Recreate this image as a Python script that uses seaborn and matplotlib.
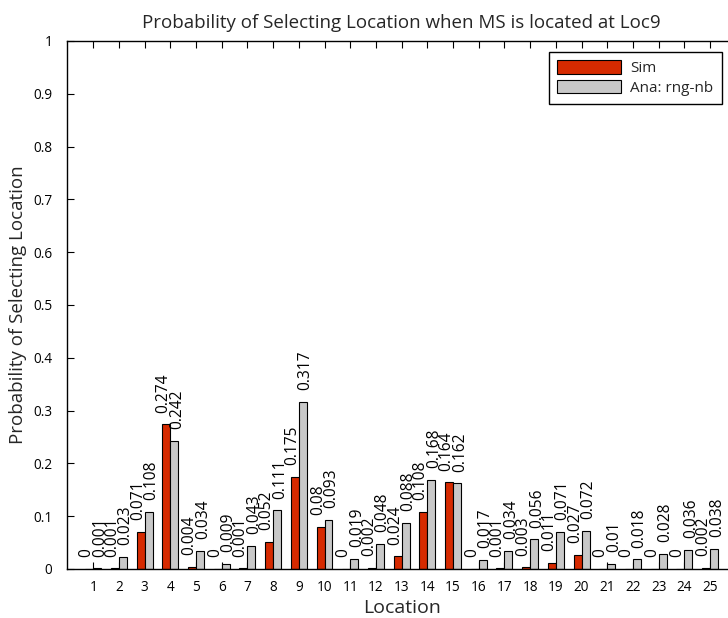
import matplotlib
matplotlib.use("Agg")
import matplotlib.pyplot as plt
import seaborn as sns
import pandas as pd

# Selection probability per location, simulation vs. analytical model
locations = list(range(1, 26))
sim_values = [0, 0.001, 0.071, 0.274, 0.004, 0, 0.001, 0.052, 0.175, 0.08,
              0, 0.002, 0.024, 0.108, 0.164, 0, 0.001, 0.003, 0.011, 0.027,
              0, 0, 0, 0, 0.002]
ana_values = [0.001, 0.023, 0.108, 0.242, 0.034, 0.009, 0.043, 0.111, 0.317, 0.093,
              0.019, 0.048, 0.088, 0.168, 0.162, 0.017, 0.034, 0.056, 0.071, 0.072,
              0.01, 0.018, 0.028, 0.036, 0.038]
series_names = ["Sim", "Ana: rng-nb"]
y_ticks = [0, 0.1, 0.2, 0.3, 0.4, 0.5, 0.6, 0.7, 0.8, 0.9, 1]
y_tick_labels = ["0", "0.1", "0.2", "0.3", "0.4", "0.5", "0.6", "0.7", "0.8", "0.9", "1"]

df = pd.DataFrame({
    "Location": [str(l) for l in locations] * 2,
    "Probability": sim_values + ana_values,
    "Series": [series_names[0]] * len(locations) + [series_names[1]] * len(locations),
})

sns.set_theme(style="ticks")
plt.rcParams["font.family"] = ["Open Sans", "DejaVu Sans"]

fig = plt.figure(figsize=(7.28, 6.18), dpi=100)
ax = fig.add_axes([0.0927, 0.0793, 0.918, 0.8544])

palette = {series_names[0]: "#d62a00", series_names[1]: "#c8c8c8"}
sns.barplot(data=df, x="Location", y="Probability", hue="Series",
            order=[str(l) for l in locations], hue_order=series_names,
            palette=palette, width=0.62, edgecolor="black", linewidth=0.8,
            saturation=1, errorbar=None, ax=ax)

# value labels above each bar, nudged slightly apart within a group
for container, vals, dx in zip(ax.containers, [sim_values, ana_values], [-2.0, 2.0]):
    for bar, v in zip(container, vals):
        xc = bar.get_x() + bar.get_width() / 2
        ax.annotate(f"{v:g}", xy=(xc, v), xytext=(dx, 8.5),
                    textcoords="offset points", rotation=90,
                    ha="center", va="bottom", fontsize=11.2, color="black")

ax.set_xlim(-1, 25)
ax.set_ylim(0, 1)
ax.set_yticks(y_ticks)
ax.set_yticklabels(y_tick_labels)
ax.set_xticks(range(len(locations)))
ax.set_xticklabels([str(l) for l in locations])
ax.tick_params(direction="in", length=5, width=0.8, top=True, right=True,
               labelsize=9.8, colors="black")
ax.tick_params(axis="y", pad=11)
ax.tick_params(axis="x", pad=8)
for s in ax.spines.values():
    s.set_visible(True)
    s.set_color("black")
    s.set_linewidth(1.0)

ax.set_xlabel("Location", fontsize=14, labelpad=3)
ax.set_ylabel("Probability of Selecting Location", fontsize=13.5, labelpad=4)
ax.set_title("Probability of Selecting Location when MS is located at Loc9",
             fontsize=13.5, pad=9)

leg = ax.legend(loc="upper right", bbox_to_anchor=(722 / 728, 1 - 52 / 618),
                bbox_transform=fig.transFigure, borderaxespad=0, fontsize=11,
                frameon=True, fancybox=False, edgecolor="black", framealpha=1,
                handlelength=4.2, handleheight=1.0, borderpad=0.55,
                labelspacing=0.2, handletextpad=0.6)
leg.get_frame().set_linewidth(1.0)

fig.savefig("out.png", dpi=100)
